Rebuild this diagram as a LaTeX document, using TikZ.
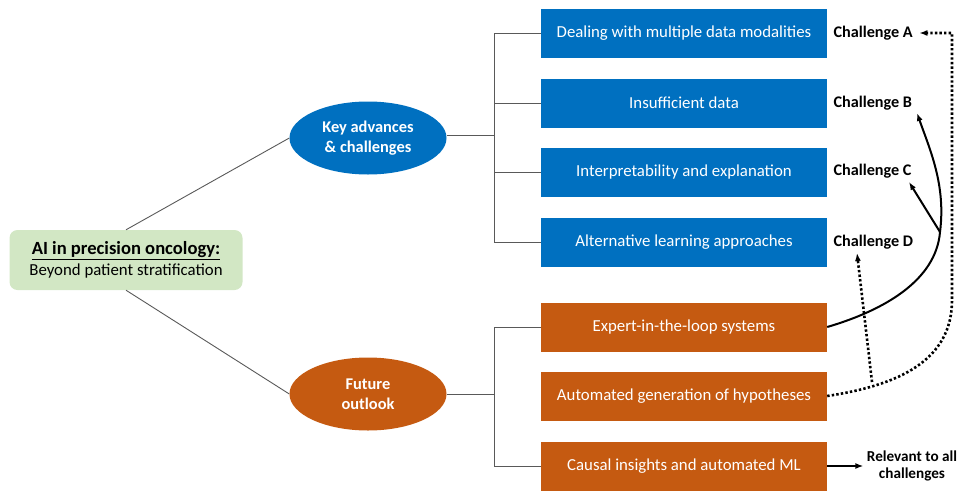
\documentclass[tikz,border=0pt]{standalone}
\usepackage{fontspec}
\setmainfont{Carlito}
\usepackage{tikz}
\usetikzlibrary{arrows.meta,shapes.geometric}
\definecolor{boxblue}{RGB}{0,112,192}
\definecolor{boxorange}{RGB}{197,90,17}
\definecolor{rootgreen}{RGB}{210,231,196}
\definecolor{treegray}{RGB}{89,89,89}

\begin{document}
\begin{tikzpicture}[x=1pt, y=-1pt,
	topic/.style={ellipse, fill=#1, minimum width=157, minimum height=73, inner sep=0pt, align=center, text=white, font=\fontsize{16.4}{20}\selectfont\bfseries},
	item/.style={fill=#1, minimum width=286, minimum height=49, inner sep=0pt, text=white, font=\fontsize{16.8}{20}\selectfont},
	chal/.style={anchor=west, font=\fontsize{16.2}{19}\selectfont\bfseries},
	tree/.style={color=treegray, line width=0.9pt},
	link/.style={line width=2pt, -{Latex[length=8pt,width=6pt]}},
	dots/.style={line width=2.6pt, dash pattern=on 2.4pt off 2.2pt, -{Latex[length=8pt,width=6pt]}}]
			%%%%% START %%%%%
			
			\useasboundingbox (0, 0) rectangle (968, 490);
			
			\node[fill=rootgreen, rounded corners=8pt, minimum width=233, minimum height=60, align=center] (root) at (126, 260)
				{{\fontsize{18.6}{22}\selectfont\bfseries\underline{AI in precision oncology:}}\\[3pt]{\fontsize{16.8}{20}\selectfont Beyond patient stratification}};
			
			\node[topic=boxblue] (key) at (368, 138) {Key advances\\\& challenges};
			\node[topic=boxorange] (fut) at (368, 394) {Future\\outlook};
			
			\draw[tree] (root.north) -- (key.west);
			\draw[tree] (root.south) -- (fut.west);
			
			\node[item=boxblue] (b1) at (684, 33) {Dealing with multiple data modalities};
			\node[item=boxblue] (b2) at (684, 103) {Insufficient data};
			\node[item=boxblue] (b3) at (684, 172) {Interpretability and explanation};
			\node[item=boxblue] (b4) at (684, 242) {Alternative learning approaches};
			
			\node[item=boxorange] (b5) at (684, 327) {Expert-in-the-loop systems};
			\node[item=boxorange] (b6) at (684, 396) {Automated generation of hypotheses};
			\node[item=boxorange] (b7) at (684, 466) {Causal insights and automated ML};
			
			\coordinate (jk) at (494, 135);
			\draw[tree] (key.east |- jk) -- (jk);
			\draw[tree] (b1.west) -| (jk);
			\draw[tree] (b4.west) -| (jk);
			\draw[tree] (b2.west) -- (b2.west -| jk);
			\draw[tree] (b3.west) -- (b3.west -| jk);
			
			\coordinate (jf) at (494, 394);
			\draw[tree] (fut.east) -- (jf);
			\draw[tree] (b5.west) -| (jf);
			\draw[tree] (b7.west) -| (jf);
			
			\node[chal] (cA) at (830, 33) {Challenge A};
			\node[chal] (cB) at (830, 103) {Challenge B};
			\node[chal] (cC) at (830, 171) {Challenge C};
			\node[chal] (cD) at (830, 242) {Challenge D};
			\node[align=center, font=\fontsize{15.2}{17}\selectfont\bfseries] (rel) at (912, 466) {Relevant to all\\challenges};
			
			\coordinate (tB) at (917, 113);
			\coordinate (tC) at (909, 182);
			\coordinate (tD) at (857, 253);
			\coordinate (jn) at (940, 232);
			\coordinate (ds) at (872, 382);
			\coordinate (up) at (952, 300);
			
			\draw[link] (b5.east) .. controls (885, 310) and (936, 280) .. (jn) .. controls (946, 185) and (930, 150) .. (tB);
			\draw[link] (jn) -- (tC);
			\draw[link] (b7.east) -- (rel.west);
			
			\draw[dots] (b6.east) .. controls (900, 385) and (952, 360) .. (up) -- (952, 33) -- ([xshift=3pt]cA.east);
			\draw[dots] (ds) -- (tD);
			
			%%%%% END %%%%%
\end{tikzpicture}
\end{document}
